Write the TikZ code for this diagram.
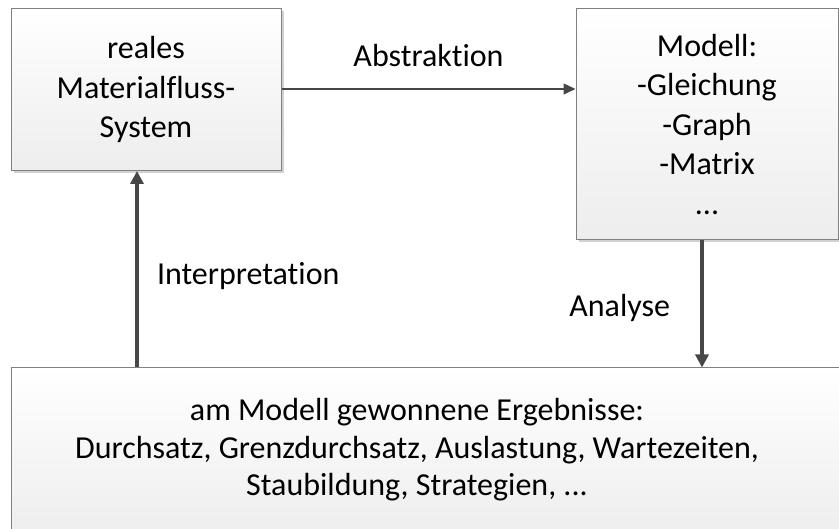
\documentclass[tikz,border=0pt]{standalone}
\usepackage{fontspec}
\setmainfont{Carlito}[RawFeature={-liga;-clig;-calt;-dlig}]
\usetikzlibrary{arrows.meta,shadows}
\begin{document}
\begin{tikzpicture}[x=1pt,y=-1pt,
  box/.style={draw=black!50, line width=1pt, top color=white, bottom color=black!7,
    inner sep=0pt, align=center, font=\fontsize{32}{39.5}\selectfont,
    drop shadow={shadow xshift=2.5pt, shadow yshift=-2.5pt, fill=black!18, opacity=1}},
  lbl/.style={font=\fontsize{32}{37.5}\selectfont, inner sep=0pt},
  thin arrow/.style={draw=black!72, line width=1.3pt, -{Triangle[length=12pt,width=11pt]}},
  thick arrow/.style={draw=black!72, line width=4pt, -{Triangle[length=13pt,width=13pt]}}]
  \useasboundingbox (0,0) rectangle (839,529);

  % source system, model and results
  \node[box, minimum width=270pt, minimum height=162pt] (sys) at (146,89.5)
    {reales\\Materialfluss-\\System};
  \node[box, minimum width=262pt, minimum height=231pt] (mod) at (707,124.5)
    {Modell:\\-Gleichung\\-Graph\\-Matrix\\...};
  \node[box, minimum width=840pt, minimum height=170pt] (res) at (431,453) {};
  \node[lbl, align=center] (restext) at (417,450)
    {am Modell gewonnene Ergebnisse:\\Durchsatz, Grenzdurchsatz, Auslastung, Wartezeiten,\\Staubildung, Strategien, ...};

  % connectors
  \draw[thin arrow] (sys.east |- 0,89) -- (mod.west |- 0,89)
    node[lbl, midway, above=22pt] (abs) {Abstraktion};
  \draw[thick arrow] (mod.south -| 702,0) -- (res.north -| 702,0)
    node[lbl, midway, left=30pt, yshift=-4pt] (ana) {Analyse};
  \draw[thick arrow] (res.north -| 137,0) -- (sys.south -| 137,0)
    node[lbl, midway, right=18pt, yshift=-7pt] (int) {Interpretation};
\end{tikzpicture}
\end{document}
